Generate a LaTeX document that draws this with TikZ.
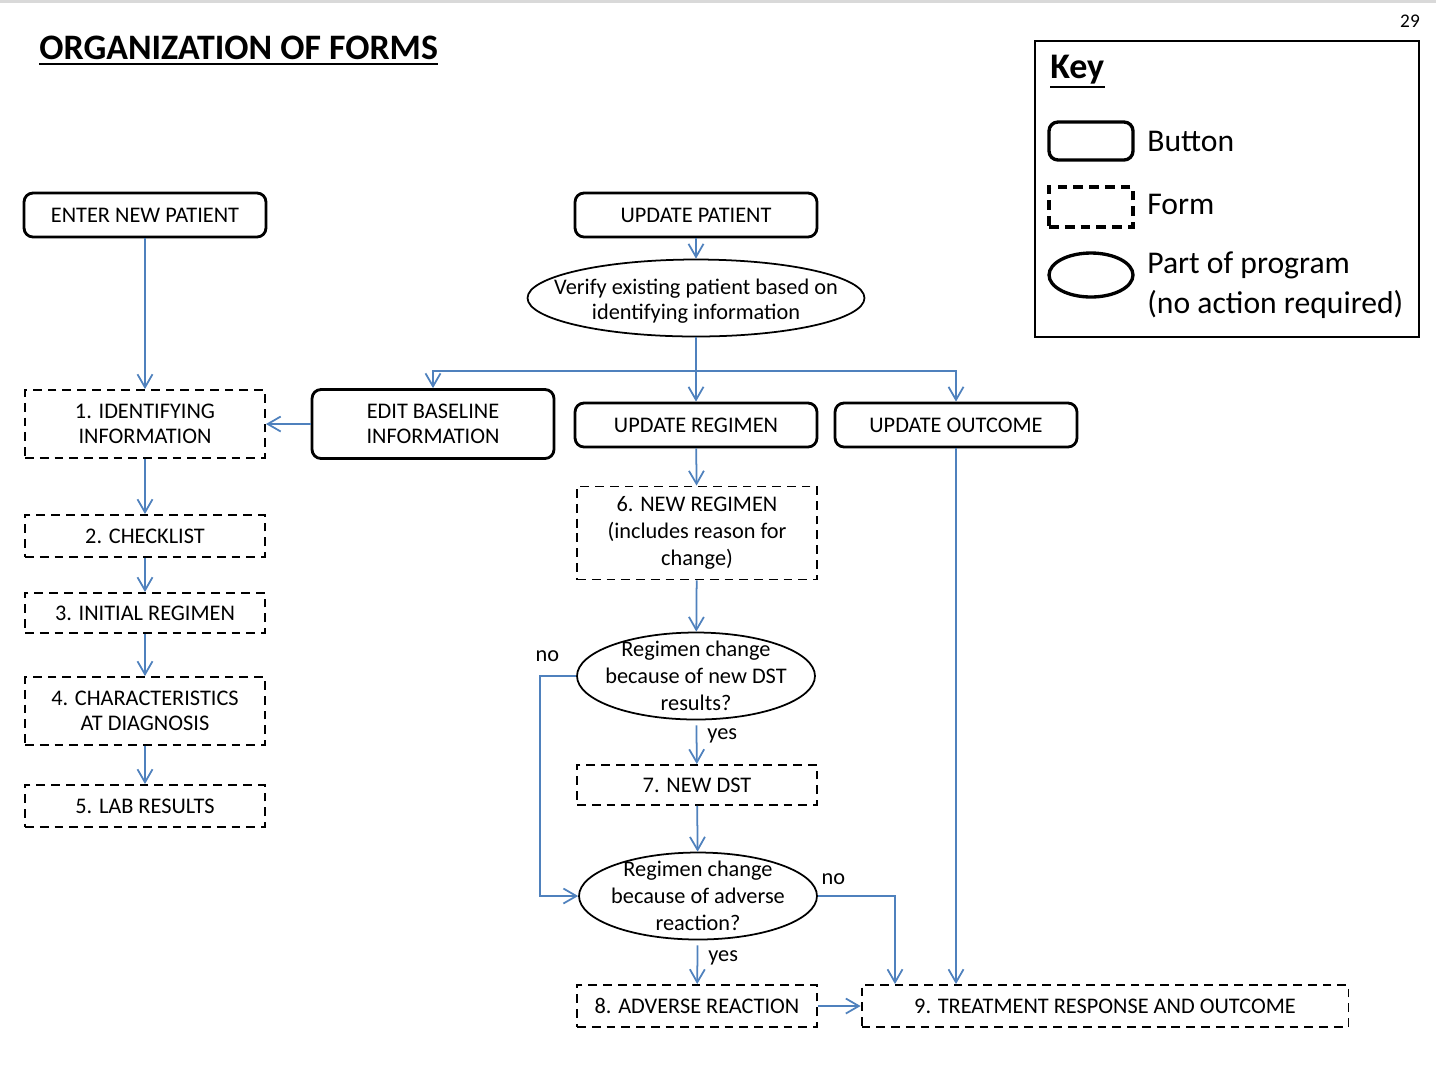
\documentclass[tikz,border=0pt]{standalone}
\usepackage{fontspec}
\setmainfont{Carlito}
\usetikzlibrary{arrows.meta,positioning,shapes.geometric}
\definecolor{flowblue}{HTML}{4F81BD}

\begin{document}
\begin{tikzpicture}[x=0.02cm,y=-0.02cm,
  font=\fontsize{12.7}{14.5}\selectfont,
  button/.style={draw,line width=1.6pt,rounded corners=1.8mm,minimum width=4.84cm,minimum height=0.88cm,inner sep=0pt,align=center},
  form/.style={draw,line width=1.1pt,dash pattern=on 5pt off 3.4pt,minimum width=4.8cm,minimum height=0.84cm,inner sep=0pt,align=center},
  prog/.style={draw,ellipse,line width=1pt,inner sep=0pt},
  link/.style={draw=flowblue,line width=1pt,-{Straight Barb[length=2.6mm,width=3mm]}},
  tag/.style={inner sep=0pt}]
\useasboundingbox (0,0) rectangle (1436,1080);
\fill[black!15] (0,0) rectangle (1436,3);

\node[tag,anchor=west,font=\fontsize{20.4}{24}\selectfont\bfseries] (title) at (39,48) {ORGANIZATION OF FORMS};
\draw[line width=1.1pt] (title.west |- 0,64) -- (title.east |- 0,64);
\node[tag,font=\fontsize{11}{13}\selectfont] (page) at (1410,21) {29};

\draw[line width=1pt] (1035,41) rectangle (1419,337);
\node[tag,anchor=west,font=\fontsize{20.5}{24}\selectfont\bfseries] (keytitle) at (1050,70) {Key};
\draw[line width=1.1pt] (keytitle.west |- 0,87) -- (keytitle.east |- 0,87);
\node[button,minimum width=1.68cm,minimum height=0.76cm,line width=1.9pt] (keybutton) at (1091,141) {};
\node[form,minimum width=1.68cm,minimum height=0.8cm,line width=1.9pt,dash pattern=on 5.5pt off 3.5pt] (keyform) at (1091,207) {};
\node[prog,minimum width=1.68cm,minimum height=0.88cm,line width=1.9pt] (keyprog) at (1091,275) {};
\node[tag,anchor=west,font=\fontsize{18}{22.7}\selectfont] (lbutton) at (1147,141) {Button};
\node[tag,anchor=west,font=\fontsize{18}{22.7}\selectfont] (lform) at (1147,204) {Form};
\node[tag,anchor=west,align=left,font=\fontsize{18}{22.7}\selectfont] (lprog) at (1147,285) {Part of program\\(no action required)};

\node[button] (enter) at (145,215) {ENTER NEW PATIENT};
\node[button] (update) at (696,215) {UPDATE PATIENT};
\node[prog,minimum width=6.74cm,minimum height=1.54cm] (verify) at (696,298) {};
\node[tag,align=center,yshift=-0.06cm] (verifytxt) at (verify) {Verify existing patient based on\\identifying information};
\node[button,minimum height=1.38cm] (editbase) at (433,424) {EDIT BASELINE\\INFORMATION};
\node[button] (updreg) at (696,425) {UPDATE REGIMEN};
\node[button] (updout) at (956,425) {UPDATE OUTCOME};

\node[form,minimum height=1.36cm] (ident) at (145,424) {1. IDENTIFYING\\INFORMATION};
\node[form] (check) at (145,536) {2. CHECKLIST};
\node[form,minimum height=0.8cm] (initreg) at (145,613) {3. INITIAL REGIMEN};
\node[form,minimum height=1.36cm] (charact) at (145,711) {4. CHARACTERISTICS\\AT DIAGNOSIS};
\node[form] (lab) at (145,806) {5. LAB RESULTS};

\node[form,minimum height=1.86cm,font=\fontsize{12.7}{15.3}\selectfont] (newreg) at (697,533) {6. NEW REGIMEN\\(includes reason for\\change)};
\node[prog,minimum width=4.76cm,minimum height=1.74cm] (dst) at (696,676) {};
\node[tag,align=center,font=\fontsize{12.7}{15.3}\selectfont] (dsttxt) at (dst) {Regimen change\\because of new DST\\results?};
\node[form,minimum height=0.8cm] (newdst) at (697,785) {7. NEW DST};
\node[prog,minimum width=4.76cm,minimum height=1.74cm] (adv) at (698,896) {};
\node[tag,align=center,font=\fontsize{12.7}{15.3}\selectfont] (advtxt) at (adv) {Regimen change\\because of adverse\\reaction?};
\node[form] (advreact) at (697,1006) {8. ADVERSE REACTION};
\node[form,minimum width=9.74cm] (outcome) at (1105,1006) {9. TREATMENT RESPONSE AND OUTCOME};

\draw[link] (enter) -- (ident);
\draw[link] (ident) -- (check);
\draw[link] (check) -- (initreg);
\draw[link] (initreg) -- (charact);
\draw[link] (charact) -- (lab);
\draw[link] (editbase) -- (ident);

\draw[link] (update) -- (verify);
\draw[link] (verify) -- (updreg);
\coordinate (split) at (verify.south |- 0,371);
\draw[link] (split) -| (editbase.north);
\draw[link] (split) -| (updout.north);

\draw[link] (updreg) -- (newreg);
\draw[link] (newreg) -- (dst);
\draw[link,shorten <=1mm] (dst) -- node[tag,right=2mm,pos=0.35] {yes} (newdst);
\draw[link] (newdst) -- (adv);
\draw[link] (dst.west) -- node[tag,pos=0.8,above=2.6mm] {no} ++(-36,0) |- (adv.west);
\coordinate (outin) at (outcome.north -| 895,0);
\draw[link] (adv.east) -| node[tag,pos=0.1,above=2mm] {no} (outin);
\draw[link,shorten <=1mm] (adv) -- node[tag,right=2mm,pos=0.4] {yes} (advreact);
\draw[link] (advreact) -- (outcome);
\draw[link] (updout) -- (updout |- outcome.north);
\end{tikzpicture}
\end{document}
